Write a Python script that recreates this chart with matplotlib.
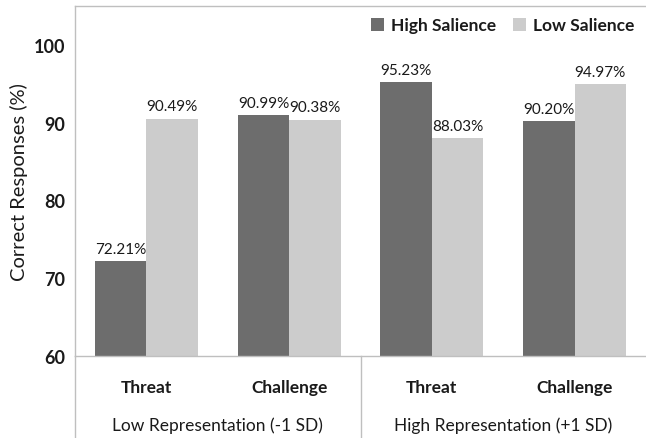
import matplotlib
matplotlib.use("Agg")
import matplotlib.pyplot as plt
import numpy as np

plt.rcParams['font.family'] = ['Lato', 'DejaVu Sans']

conditions = ["Threat", "Challenge", "Threat", "Challenge"]
groups = ["Low Representation (-1 SD)", "High Representation (+1 SD)"]
high_salience = [72.21, 90.99, 95.23, 90.20]
low_salience = [90.49, 90.38, 88.03, 94.97]
series_names = ["High Salience", "Low Salience"]
yticks = [60, 70, 80, 90, 100]

dark = "#6d6d6d"
light = "#cccccc"
axis_col = "#bfbfbf"
txt = "#1a1a1a"

fig = plt.figure(figsize=(6.46, 4.39), dpi=100)
ax = fig.add_axes([75/646, 1-357/439, 571/646, 350/439])

x = np.arange(len(conditions))
w = 0.36
ax.bar(x - w/2, np.array(high_salience) - 60, w, bottom=60, color=dark, label=series_names[0])
ax.bar(x + w/2, np.array(low_salience) - 60, w, bottom=60, color=light, label=series_names[1])

for xi, v in zip(x - w/2, high_salience):
    ax.text(xi, v + 0.7, f"{v:.2f}%", ha="center", va="bottom", fontsize=11, color=txt)
for xi, v in zip(x + w/2, low_salience):
    ax.text(xi, v + 0.7, f"{v:.2f}%", ha="center", va="bottom", fontsize=11, color=txt)

ax.set_ylim(60, 105)
ax.set_xlim(-0.5, 3.5)
ax.set_yticks(yticks)
ax.set_yticklabels([str(t) for t in yticks], fontsize=13, fontweight="bold", color=txt)
ax.tick_params(axis="y", length=0, pad=7)
ax.set_xticks([])
ax.set_ylabel("Correct Responses (%)", fontsize=14.5, color=txt)
ax.yaxis.set_label_coords(-47/571, 0.5)

for s in ["left", "bottom", "top"]:
    ax.spines[s].set_color(axis_col)
    ax.spines[s].set_linewidth(1.0)
ax.spines["right"].set_visible(False)

trans = ax.get_xaxis_transform()
for xv in [-0.5, 1.5]:
    ax.plot([xv, xv], [0, -0.24], transform=trans, color=axis_col, lw=1.0, clip_on=False)

for xi, c in zip(x, conditions):
    ax.text(xi, -0.088, c, transform=trans, ha="center", va="center", fontsize=12.5, fontweight="bold", color=txt)
for gi, g in enumerate(groups):
    ax.text(0.5 + 2*gi, -0.197, g, transform=trans, ha="center", va="center", fontsize=12.5, color=txt)

leg = ax.legend(loc="upper right", bbox_to_anchor=(1.0, 1.0), ncol=2, frameon=False,
                fontsize=12.5, handlelength=0.75, handleheight=0.75, handletextpad=0.4,
                columnspacing=1.0, borderaxespad=0.25)
for t in leg.get_texts():
    t.set_fontweight("bold")
    t.set_color(txt)

fig.savefig("out.png", dpi=100)
